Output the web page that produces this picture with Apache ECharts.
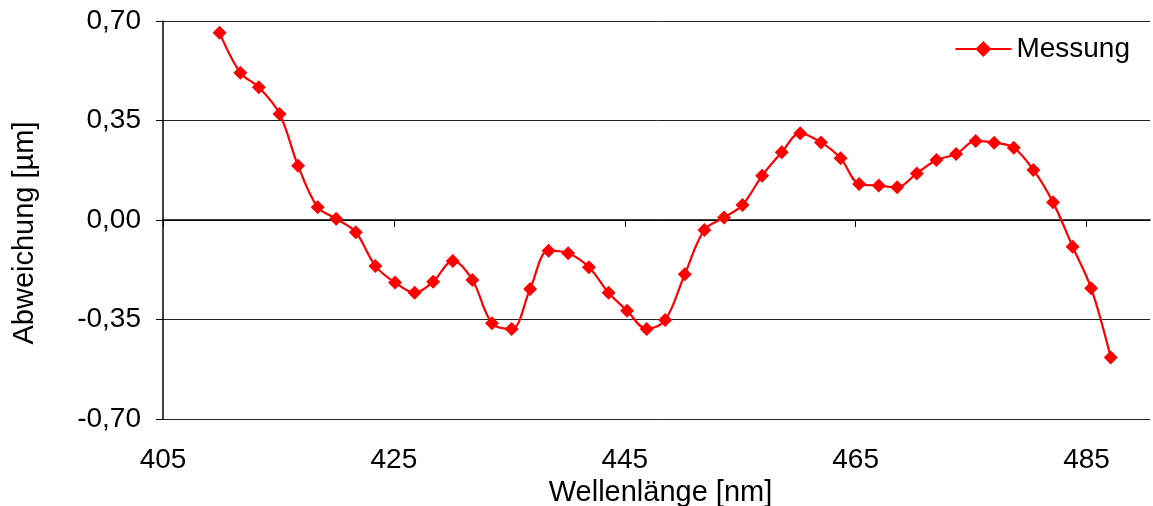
<!DOCTYPE html>
<html>
<head>
<meta charset="utf-8">
<script src="https://cdn.jsdelivr.net/npm/echarts@6/dist/echarts.min.js"></script>
<style>
  html, body { margin: 0; padding: 0; background: #fff; }
  #main { width: 1153px; height: 506px; }
</style>
</head>
<body>
<div id="main"></div>
<script>
    // Wellenlänge [nm] der Messpunkte
    var wellenlaenge = [
        409.9, 411.7, 413.3, 415.1, 416.7, 418.4, 420.0, 421.7, 423.4, 425.1,
        426.8, 428.4, 430.1, 431.8, 433.5, 435.2, 436.8, 438.4, 440.1, 441.9,
        443.6, 445.2, 446.9, 448.5, 450.2, 451.9, 453.6, 455.2, 456.9, 458.6,
        460.2, 462.0, 463.7, 465.3, 467.0, 468.6, 470.3, 472.0, 473.7, 475.4,
        477.0, 478.7, 480.4, 482.1, 483.8, 485.4, 487.1
    ];
    // Abweichung [µm]
    var abweichung = [
        0.659, 0.518, 0.467, 0.373, 0.191, 0.045, 0.004, -0.043, -0.162, -0.220,
        -0.256, -0.217, -0.144, -0.211, -0.363, -0.383, -0.243, -0.108, -0.117, -0.166,
        -0.256, -0.319, -0.383, -0.352, -0.191, -0.035, 0.009, 0.053, 0.156, 0.238,
        0.305, 0.273, 0.217, 0.127, 0.121, 0.115, 0.164, 0.211, 0.232, 0.278,
        0.272, 0.254, 0.176, 0.062, -0.094, -0.240, -0.484
    ];
    var yTicks = [-0.70, -0.35, 0.00, 0.35, 0.70];

    var points = [];
    for (var i = 0; i < wellenlaenge.length; i++) {
        points.push([wellenlaenge[i], abweichung[i]]);
    }

    var schrift = 'Liberation Sans, Arial, sans-serif';
    var groesse = 28;

    var option = {
        animation: false,
        backgroundColor: '#fff',
        textStyle: { fontFamily: schrift, color: '#000' },
        grid: { left: 163, right: 3, top: 21, bottom: 87, outerBoundsMode: 'none', containLabel: false },
        legend: {
            right: 18, top: 30,
            itemWidth: 56, itemHeight: 20, itemGap: 8,
            textStyle: { fontSize: groesse, color: '#000', fontFamily: schrift },
            data: ['Messung']
        },
        xAxis: {
            type: 'value',
            min: 405, max: 490.5, interval: 20,
            name: 'Wellenlänge [nm]',
            nameLocation: 'middle', nameGap: 57,
            nameTextStyle: { fontSize: 29, color: '#000', fontFamily: schrift, padding: [0, 0, 0, 8] },
            axisLine: { lineStyle: { color: '#000', width: 1.5 } },
            axisTick: { show: true, length: 7, lineStyle: { color: '#000' } },
            axisLabel: { fontSize: groesse, color: '#000', margin: 27, showMaxLabel: false, fontFamily: schrift },
            splitLine: { show: false }
        },
        yAxis: {
            type: 'value',
            min: yTicks[0], max: yTicks[yTicks.length - 1], interval: 0.35,
            name: 'Abweichung [µm]',
            nameLocation: 'middle', nameGap: 124, nameRotate: 90,
            nameTextStyle: { fontSize: 29, color: '#000', fontFamily: schrift, padding: [0, 26, 0, 0] },
            axisLine: { show: true, lineStyle: { color: '#000', width: 1.5 } },
            axisTick: { show: true, length: 7, lineStyle: { color: '#000' } },
            axisLabel: {
                fontSize: groesse, color: '#000', margin: 22, fontFamily: schrift,
                formatter: function (v) { return v.toFixed(2).replace('.', ','); }
            },
            splitLine: { show: true, lineStyle: { color: '#222', width: 1 } }
        },
        series: [
            {
                name: 'Messung',
                type: 'line',
                data: points,
                smooth: 0.35,
                symbol: 'diamond',
                symbolSize: 14,
                itemStyle: { color: '#ff0000' },
                lineStyle: { color: '#ff0000', width: 2.2 }
            }
        ]
    };

    var chartDom = document.getElementById('main');
    var myChart = echarts.init(chartDom);
    myChart.setOption(option);
</script>
</body>
</html>
